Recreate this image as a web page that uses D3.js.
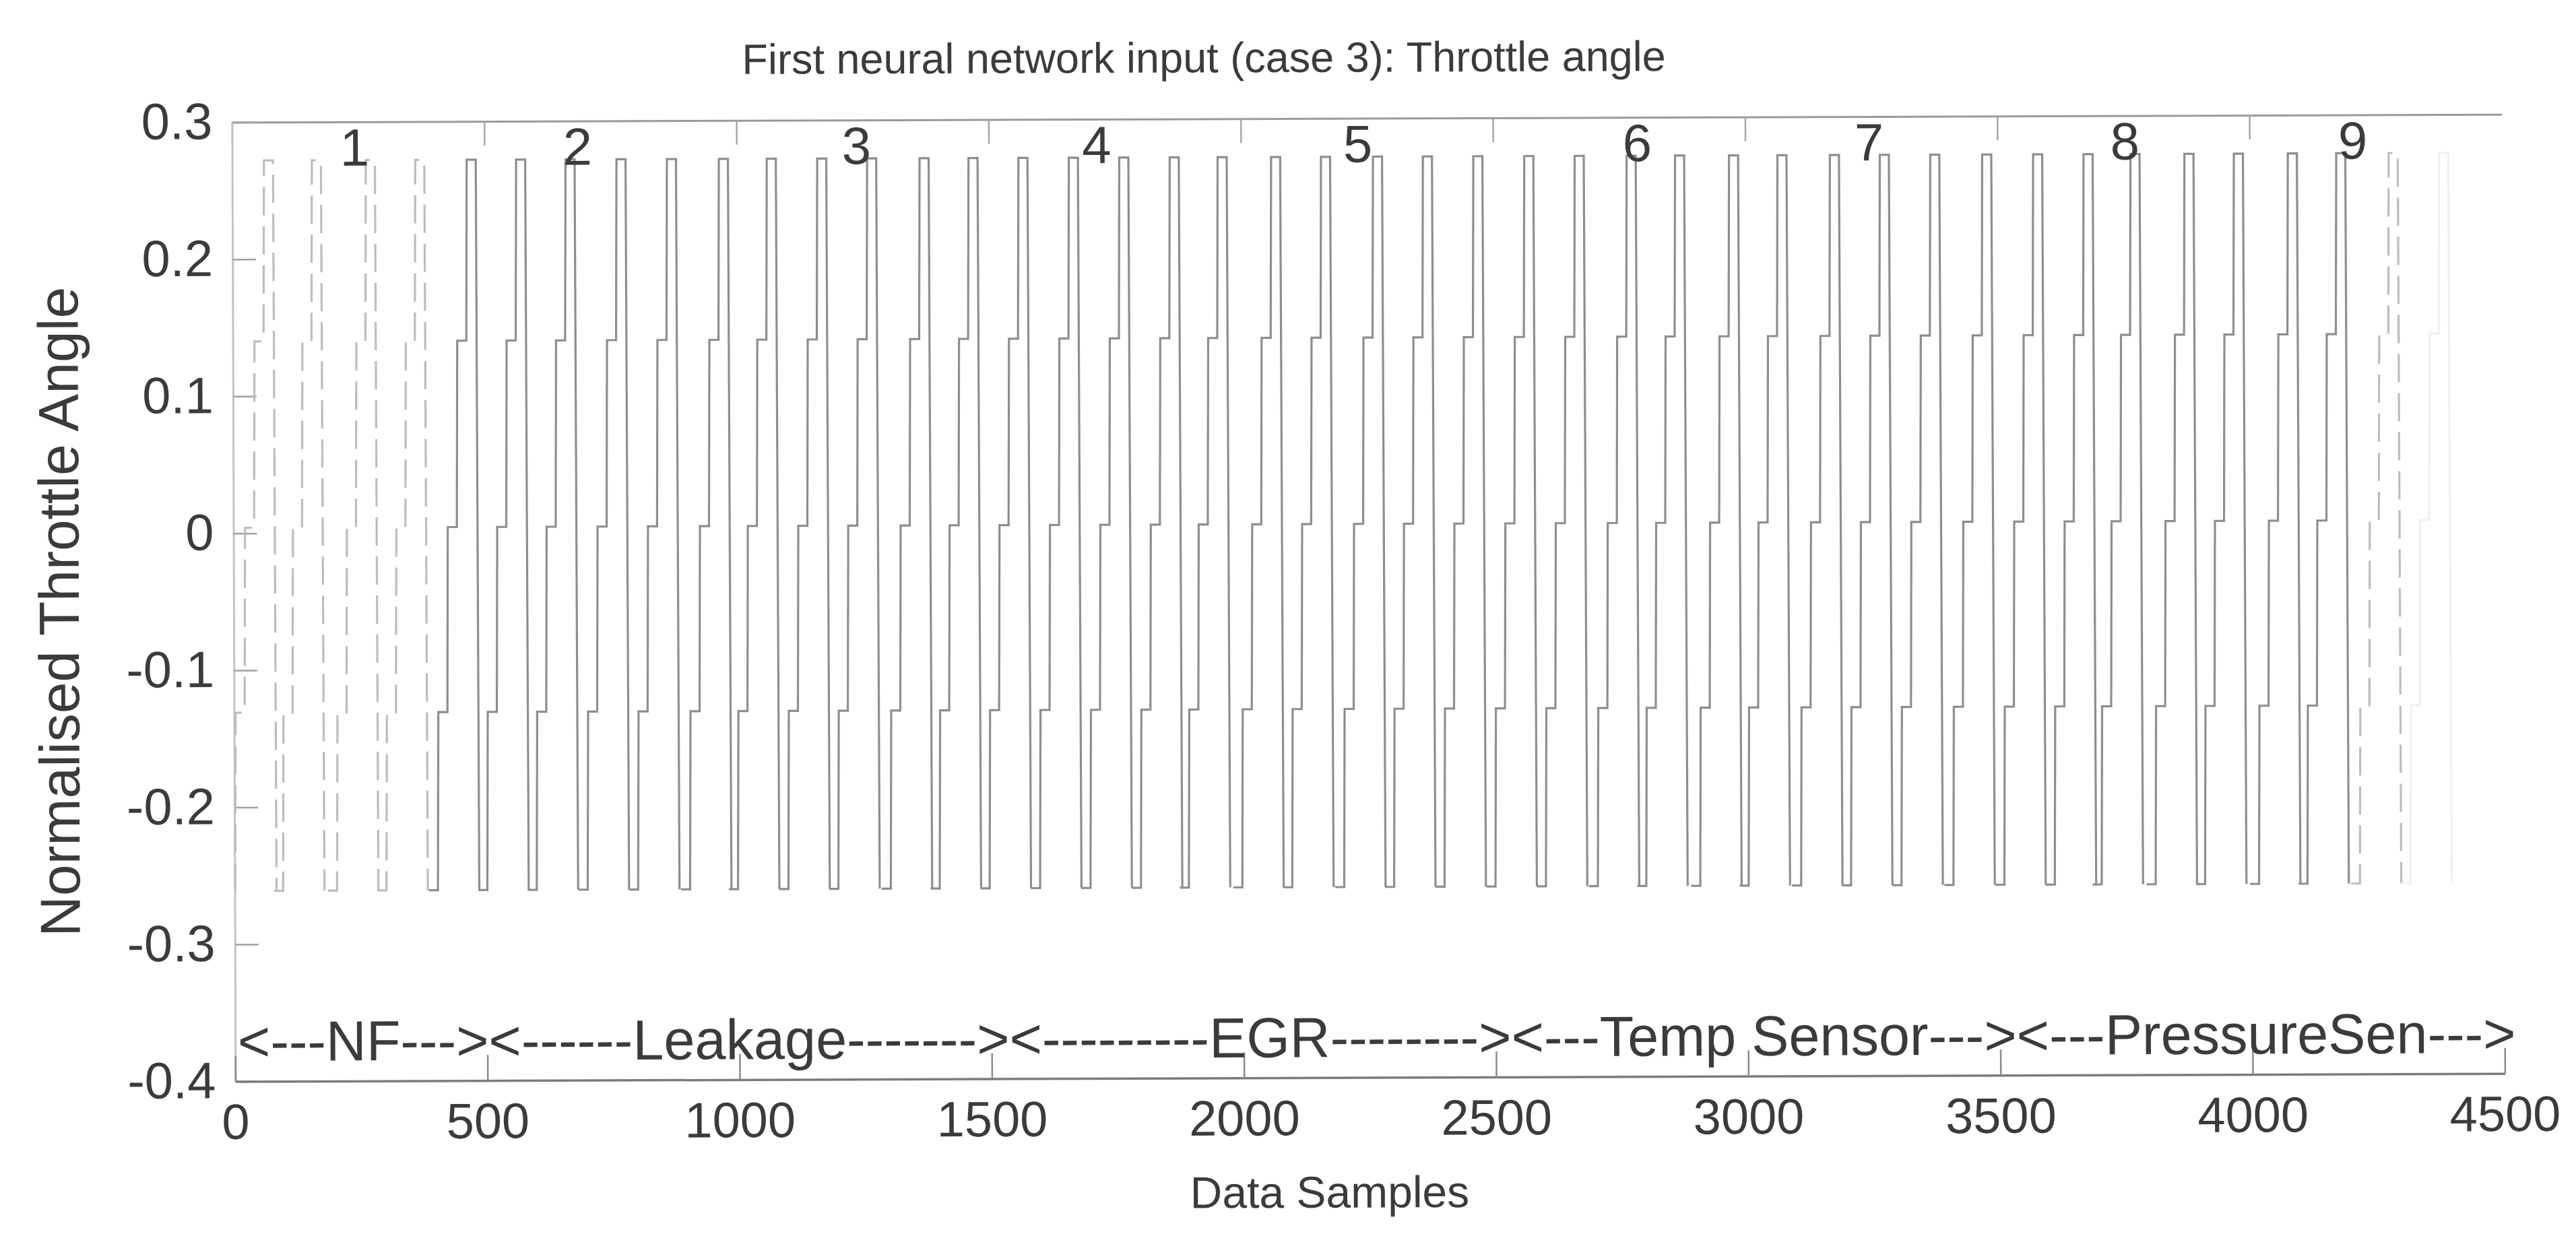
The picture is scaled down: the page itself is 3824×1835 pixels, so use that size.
<!DOCTYPE html>
<html>
<head>
<meta charset="utf-8">
<script src="https://cdn.jsdelivr.net/npm/d3@7.9.0/dist/d3.min.js"></script>
<style>
  html, body { margin: 0; padding: 0; background: #fff; }
  svg { display: block; font-family: "Liberation Sans", Arial, sans-serif; }
</style>
</head>
<body>
<svg id="chart" width="3824" height="1835"></svg>
<script>
// throttle staircase levels, bottom -> top
const stepLevels = [-0.261, -0.131, 0.004, 0.140, 0.272];
// sample at the middle of every top plateau
const toothCentres = [72, 167, 274, 372, 474, 572, 670, 771, 871, 974, 1069, 1169,
  1268, 1372, 1469, 1568, 1668, 1768, 1868, 1963, 2069, 2168, 2271, 2370,
  2470, 2571, 2671, 2774, 2870, 2977, 3073, 3177, 3276, 3376, 3479, 3580,
  3680, 3773, 3880, 3978, 4085, 4181, 4285, 4385];
// teeth that are washed out in the scan
const fadedTeeth = [72, 167, 274, 372, 4285];
const ghostTeeth = [4385];

const caseNumbers = ["1", "2", "3", "4", "5", "6", "7", "8", "9"];
const caseNumberX = [243, 685, 1238, 1714, 2232, 2786, 3246, 3753, 4205];
const caseNumberY = 0.268;

const faultBanner = "<---NF---><------Leakage-------><---------EGR--------><---Temp Sensor---><---PressureSen--->";
const bannerStart = 5, bannerEnd = 4522, bannerY = -0.385;

const xTicks = [0, 500, 1000, 1500, 2000, 2500, 3000, 3500, 4000, 4500];
const yTicks = [-0.4, -0.3, -0.2, -0.1, 0, 0.1, 0.2, 0.3];

const svg = d3.select("#chart"),
      width = +svg.attr("width"),
      height = +svg.attr("height");

const root = svg.append("g")
    .attr("transform", `rotate(-0.2, ${width / 2}, ${height / 2})`);

const x = d3.scaleLinear().domain([0, 4500]).range([347, 3716]);
const y = d3.scaleLinear().domain([-0.4, 0.3]).range([1600, 176]);

const ink = "#3b3b3b";

// top border with ticks (right end fades out in the scan)
root.append("g")
    .attr("transform", `translate(0,${y(0.3)})`)
    .call(d3.axisTop(x).tickValues(xTicks.slice(0, -1)).tickSizeInner(-36).tickSizeOuter(0).tickFormat(""))
    .call(g => g.select(".domain").attr("stroke", "#9a9a9a").attr("stroke-width", 3))
    .call(g => g.selectAll(".tick line").attr("stroke", "#a8a8a8").attr("stroke-width", 2.5));

// left axis
root.append("g")
    .attr("transform", `translate(${x(0)},0)`)
    .call(d3.axisLeft(y).tickValues(yTicks).tickSizeInner(-35).tickSizeOuter(0).tickPadding(29)
      .tickFormat(d => String(+d.toFixed(1))))
    .call(g => g.select(".domain").attr("stroke", "#c4c4c4").attr("stroke-width", 3))
    .call(g => g.selectAll(".tick line").attr("stroke", "#a0a0a0").attr("stroke-width", 2.5))
    .call(g => g.selectAll(".tick text").attr("fill", ink).attr("font-size", 76)
      .attr("font-family", "'Liberation Sans', Arial, sans-serif"));

// bottom axis
root.append("g")
    .attr("transform", `translate(0,${y(-0.4)})`)
    .call(d3.axisBottom(x).tickValues(xTicks).tickSizeInner(-38).tickSizeOuter(0).tickPadding(33)
      .tickFormat(d => String(d)))
    .call(g => g.select(".domain").attr("stroke", "#7c7c7c").attr("stroke-width", 3.5))
    .call(g => g.selectAll(".tick line").attr("stroke", "#8a8a8a").attr("stroke-width", 2.5))
    .call(g => g.selectAll(".tick text").attr("fill", ink).attr("font-size", 74)
      .attr("font-family", "'Liberation Sans', Arial, sans-serif"));

// staircase teeth
function toothPoints(c) {
  const pts = [];
  stepLevels.forEach((lv, i) => {
    const x0 = c - 90 + 20 * i + 1;
    pts.push([Math.max(0, x0), lv], [x0 + 18, lv]);
  });
  pts.push([c + 11, stepLevels[0]]);
  return pts;
}

const line = d3.line()
    .x(d => x(d[0]))
    .y(d => y(d[1]));

root.append("g").selectAll("path")
  .data(toothCentres)
  .join("path")
    .attr("d", c => line(toothPoints(c)))
    .attr("fill", "none")
    .attr("stroke", c => ghostTeeth.includes(c) ? "#f0f0f0" : fadedTeeth.includes(c) ? "#bdbdbd" : "#8e8e8e")
    .attr("stroke-dasharray", c => fadedTeeth.includes(c) ? "42 16" : null)
    .attr("stroke-width", 3.2);

// case numbers along the top
root.append("g").selectAll("text")
  .data(caseNumbers)
  .join("text")
    .attr("x", (d, i) => x(caseNumberX[i]))
    .attr("y", y(caseNumberY))
    .attr("text-anchor", "middle")
    .attr("font-size", 78)
    .attr("fill", ink)
    .text(d => d);

// fault band banner
root.append("text")
    .attr("x", x(bannerStart))
    .attr("y", y(bannerY))
    .attr("textLength", x(bannerEnd) - x(bannerStart))
    .attr("lengthAdjust", "spacingAndGlyphs")
    .attr("font-size", 84)
    .attr("fill", ink)
    .text(faultBanner);

// title and axis labels
root.append("text")
    .attr("x", 1790)
    .attr("y", 107)
    .attr("text-anchor", "middle")
    .attr("font-size", 63)
    .attr("fill", ink)
    .text("First neural network input (case 3): Throttle angle");

root.append("text")
    .attr("x", 1971)
    .attr("y", 1793)
    .attr("text-anchor", "middle")
    .attr("font-size", 66)
    .attr("fill", ink)
    .text("Data Samples");

root.append("text")
    .attr("transform", "translate(117,902) rotate(-90)")
    .attr("text-anchor", "middle")
    .attr("font-size", 84)
    .attr("fill", ink)
    .text("Normalised Throttle Angle");
</script>
</body>
</html>
